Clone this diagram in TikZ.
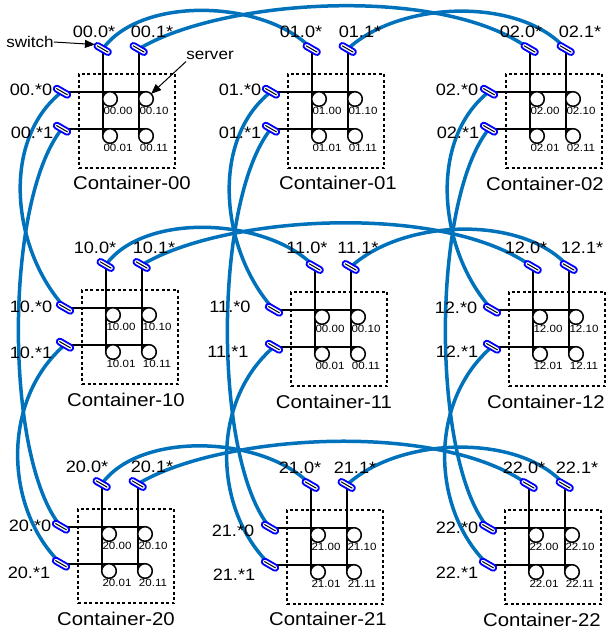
\documentclass[tikz,border=0pt]{standalone}
\usepackage{fontspec}
\setmainfont[FakeStretch=1.1]{Liberation Sans}
\usetikzlibrary{arrows.meta}
\definecolor{cableblue}{RGB}{0,114,188}
\definecolor{swblue}{RGB}{0,0,255}
\pgfdeclarelayer{bg}
\pgfsetlayers{bg,main}
\begin{document}
\begin{tikzpicture}[x=1pt,y=-1pt,
  srv/.style={circle, draw, fill=white, line width=1.5pt, minimum size=14.6pt, inner sep=0pt, outer sep=0pt},
  sw/.style={rectangle, rounded corners=3pt, draw=swblue, fill=white, line width=1.8pt, minimum width=18pt, minimum height=6pt, inner sep=0pt, outer sep=0pt, rotate=-30},
  swline/.style={line width=1pt, shorten <=2.5pt, shorten >=2.5pt},
  wire/.style={line width=1.6pt},
  ctbox/.style={draw, dash pattern=on 3pt off 2.5pt, line width=1.3pt, inner sep=0pt, minimum width=96pt, minimum height=94pt},
  cable/.style={draw=cableblue, line width=3.5pt},
  swlab/.style={font=\fontsize{16.5}{18}\selectfont, inner sep=0pt},
  srvlab/.style={font=\fontsize{10.5}{11}\selectfont, inner sep=0pt},
  ctlab/.style={font=\fontsize{18.5}{20}\selectfont, inner sep=0pt},
  anlab/.style={font=\fontsize{15.5}{17}\selectfont, inner sep=0pt},
  arr/.style={line width=1pt, -{Triangle[length=10pt,width=8pt]}}
]
\useasboundingbox (0,0) rectangle (608,633);

\foreach \nm/\pre/\cx/\cy in {00/00/110/99, 01/01/319/99, 02/02/537/99,
    10/10/113/315, 11/00/322/317, 12/12/540/317,
    20/20/109/534, 21/21/318/535, 22/22/536/535}{
  \node[ctbox] (b\nm) at (\cx+17,\cy+22) {};
  \node[srv] (\nm-00) at (\cx,\cy) {};
  \node[srv] (\nm-10) at (\cx+36,\cy) {};
  \node[srv] (\nm-01) at (\cx,\cy+37) {};
  \node[srv] (\nm-11) at (\cx+36,\cy+37) {};
  \node[srvlab] (\nm-00t) at (\cx+8,\cy+12) {\pre.00};
  \node[srvlab] (\nm-10t) at (\cx+44,\cy+12) {\pre.10};
  \node[srvlab] (\nm-01t) at (\cx+8,\cy+49) {\pre.01};
  \node[srvlab] (\nm-11t) at (\cx+44,\cy+49) {\pre.11};
  \node[sw] (s\nm-r0) at (\cx-7.3,\cy-50) {};
  \node[sw] (s\nm-r1) at (\cx+28.7,\cy-50) {};
  \node[sw] (s\nm-c0) at (\cx-48,\cy-7.3) {};
  \node[sw] (s\nm-c1) at (\cx-48,\cy+29.7) {};
  \foreach \k in {r0,r1,c0,c1} \draw[swline] (s\nm-\k.west) -- (s\nm-\k.east);
  \begin{pgfonlayer}{bg}
    \draw[wire] (s\nm-r0.center) -- (\nm-01.west);
    \draw[wire] (s\nm-r1.center) -- (\nm-11.west);
    \draw[wire] (s\nm-c0.center) -- (\nm-10.north);
    \draw[wire] (s\nm-c1.center) -- (\nm-11.north);
  \end{pgfonlayer}
}

\foreach \t/\x/\y in {Container-00/132/183, Container-01/338/183, Container-02/545/184,
    Container-10/126/400, Container-11/334/402, Container-12/546/402,
    Container-20/116/619, Container-21/328/619, Container-22/542/620}{
  \node[ctlab] (L\t) at (\x,\y) {\t};
}

\foreach \t/\x/\y [count=\i] in {00.0*/94/32, 00.1*/152/32, 01.0*/301/32, 01.1*/360/32, 02.0*/521/32, 02.1*/580/32,
    10.0*/95/248, 10.1*/154/248, 11.0*/307/248, 11.1*/358/248, 12.0*/526/248, 12.1*/582/248,
    20.0*/87/467, 20.1*/152/467, 21.0*/300/468, 21.1*/355/468, 22.0*/524/468, 22.1*/577/468,
    00.*0/31/90, 00.*1/32/133, 01.*0/240/90, 01.*1/240/133, 02.*0/457/90, 02.*1/458/133,
    10.*0/31/307, 10.*1/31/353, 11.*0/230/307, 11.*1/228/352, 12.*0/456/308, 12.*1/457/352,
    20.*0/30/526, 20.*1/29/573, 21.*0/233/531, 21.*1/234/575, 22.*0/457/528, 22.*1/457/573}{
  \node[swlab] (t\i) at (\x,\y) {\t};
}

\begin{pgfonlayer}{bg}
\foreach \r in {0,1,2}{
  \draw[cable] (s\r0-r0.center) .. controls +(39,-54) and +(-46,-49) .. (s\r1-r0.center);
  \draw[cable] (s\r0-r1.center) .. controls +(83,-50) and +(-89,-65) .. (s\r2-r0.center);
  \draw[cable] (s\r1-r1.center) .. controls +(53,-49) and +(-45,-52) .. (s\r2-r1.center);
}
\foreach \c in {0,1,2}{
  \draw[cable] (s0\c-c0.center) .. controls +(-62,49) and +(-53,-58) .. (s1\c-c0.center);
  \draw[cable] (s0\c-c1.center) .. controls +(-58,72) and +(-57,-68) .. (s2\c-c0.center);
  \draw[cable] (s1\c-c1.center) .. controls +(-64,55) and +(-57,-55) .. (s2\c-c1.center);
}
\end{pgfonlayer}

\node[anlab] (lsw) at (30,42) {switch};
\node[anlab] (lsv) at (210,55) {server};
\draw[arr] (lsw.east) -- (s00-r0.west);
\draw[arr] ([yshift=-2pt]lsv.south west) -- (00-10.north east);
\end{tikzpicture}
\end{document}
